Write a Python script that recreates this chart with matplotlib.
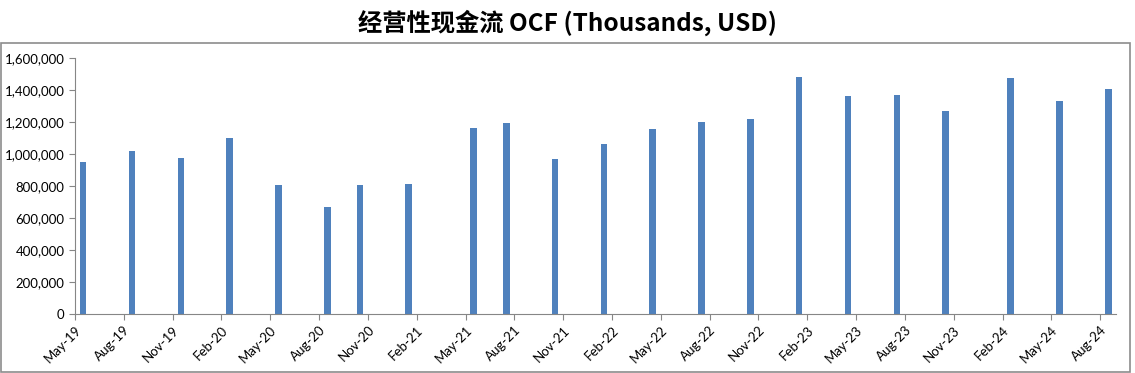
import numpy as np
import matplotlib.pyplot as plt
from matplotlib.patches import Rectangle
from matplotlib.ticker import FuncFormatter

# report months (year, month) and OCF values in thousands USD
periods = [(2019, 5), (2019, 8), (2019, 11), (2020, 2), (2020, 5), (2020, 8),
           (2020, 10), (2021, 1), (2021, 5), (2021, 7), (2021, 10), (2022, 1),
           (2022, 4), (2022, 7), (2022, 10), (2023, 1), (2023, 4), (2023, 7),
           (2023, 10), (2024, 2), (2024, 5), (2024, 8)]
ocf = [948000, 1017000, 974000, 1099000, 805000, 668000, 805000, 811000,
       1161000, 1192000, 968000, 1061000, 1155000, 1199000, 1217000, 1479000,
       1361000, 1367000, 1267000, 1473000, 1330000, 1404000]
tick_labels = ["May-19", "Aug-19", "Nov-19", "Feb-20", "May-20", "Aug-20",
               "Nov-20", "Feb-21", "May-21", "Aug-21", "Nov-21", "Feb-22",
               "May-22", "Aug-22", "Nov-22", "Feb-23", "May-23", "Aug-23",
               "Nov-23", "Feb-24", "May-24", "Aug-24"]

start = 2019 * 12 + 5
months = np.array([y * 12 + m - start for y, m in periods])

fig = plt.figure(figsize=(11.35, 3.73), dpi=100)
fig.patches.append(Rectangle((1 / 1135, 0.003), 1129 / 1135, 0.882,
                             transform=fig.transFigure, fill=False,
                             edgecolor="#8c8c8c", linewidth=1.2))

ax = fig.add_axes([0.0661, 0.1582, 0.9176, 0.6871])
ax.bar(months + 0.5, ocf, width=0.4, color="#4F81BD")

ax.set_xlim(0, 64)
ax.set_ylim(0, 1600000)
ax.set_yticks(np.arange(0, 1600001, 200000))
ax.yaxis.set_major_formatter(FuncFormatter(lambda v, p: f"{int(v):,}"))
ax.set_xticks(np.arange(0, 64, 3))
ax.set_xticklabels(tick_labels, rotation=45, ha="right", rotation_mode="anchor")

for s in ["top", "right"]:
    ax.spines[s].set_visible(False)
for s in ["left", "bottom"]:
    ax.spines[s].set_color("#868686")
ax.tick_params(axis="both", colors="#868686", length=4, labelcolor="black",
               labelsize=9.5)
ax.tick_params(axis="x", pad=3)
for lab in ax.get_xticklabels() + ax.get_yticklabels():
    lab.set_family("Lato")

fig.text(0.5, 0.94, "经营性现金流 OCF (Thousands, USD)", ha="center", va="center",
         fontsize=17.5, fontweight="bold", family=["Noto Sans CJK SC", "DejaVu Sans"])

fig.savefig("out.png", dpi=100)
